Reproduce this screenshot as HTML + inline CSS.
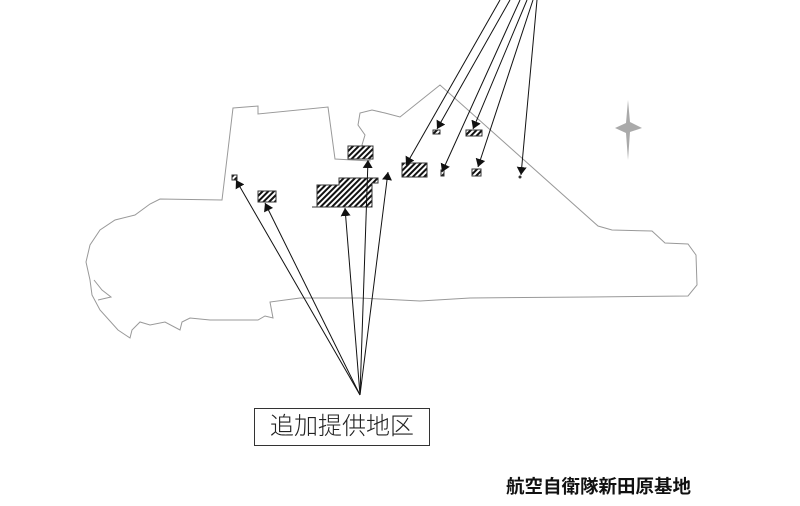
<!DOCTYPE html>
<html><head><meta charset="utf-8"><style>
body{margin:0;background:#fff;width:800px;height:506px;overflow:hidden;position:relative}
.lbl{position:absolute;left:254px;top:408px;width:176px;height:38px;border:1px solid #333;box-sizing:border-box;font-family:"Liberation Sans","Noto Sans CJK JP",sans-serif;font-size:24px;font-weight:300;line-height:36px;text-align:center;color:#222}
.ttl{position:absolute;left:506px;top:473px;font-family:"Liberation Sans","Noto Sans CJK JP",sans-serif;font-size:18.5px;font-weight:bold;color:#111;white-space:nowrap}
</style></head><body>
<svg width="800" height="506" style="position:absolute;left:0;top:0">
<defs>
<pattern id="h" width="4" height="4" patternUnits="userSpaceOnUse" patternTransform="rotate(45)"><rect width="4" height="4" fill="#fff"/><rect width="2" height="4" fill="#111"/></pattern>
<marker id="a" markerWidth="8" markerHeight="10" refX="8" refY="5" orient="auto" markerUnits="userSpaceOnUse"><path d="M0,0 L8,5 L0,10z" fill="#111"/></marker>
</defs>
<path d="M233,108 L258,106 L258,114 L328,107 L335,159 L370,161 L368,150 L362,145 L365,135 L358,125 L360,113 L372,110 L385,113 L400,117 L440,85 L598,226 L612,230 L652,231 L665,243 L688,244 L696,255 L697,285 L688,296 L590,297 L470,298 L420,301 L360,298 L300,298 L270,302 L273,318 L265,316 L258,320 L210,320 L190,318 L182,322 L180,330 L165,322 L150,325 L140,322 L132,330 L130,338 L118,330 L100,310 L92,295 L90,280 L86,262 L90,245 L100,230 L115,220 L135,215 L150,204 L160,199 L222,200 L228,150 Z" fill="none" stroke="#999" stroke-width="1"/>
<path d="M94,280 L102,290 L111,297 L98,300" fill="none" stroke="#999" stroke-width="1"/>
<g stroke="#333" stroke-width="1" fill="url(#h)">
<rect x="348" y="146" width="25" height="13"/>
<path d="M317,185 L339,185 L339,178 L378,178 L378,183 L372,183 L372,207 L317,207 Z"/>
<rect x="258" y="191" width="18" height="11"/>
<rect x="232" y="175" width="5" height="5"/>
<rect x="402" y="163" width="25" height="14"/>
<rect x="433" y="130" width="7" height="4"/>
<rect x="466" y="130" width="16" height="6"/>
<rect x="441" y="170" width="3" height="6"/>
<rect x="472" y="169" width="9" height="7"/>
</g>
<line x1="312" y1="207" x2="320" y2="207" stroke="#333"/>
<circle cx="520" cy="177" r="1.5" fill="#333"/>
<g stroke="#111" stroke-width="1" marker-end="url(#a)">
<line x1="360" y1="395" x2="236" y2="180"/>
<line x1="360" y1="395" x2="265" y2="203"/>
<line x1="360" y1="395" x2="345" y2="208"/>
<line x1="360" y1="395" x2="368" y2="160"/>
<line x1="360" y1="395" x2="388" y2="172"/>
<line x1="500" y1="0" x2="406" y2="165"/>
<line x1="510" y1="0" x2="437" y2="129"/>
<line x1="520" y1="0" x2="442" y2="172"/>
<line x1="527" y1="0" x2="473" y2="129"/>
<line x1="533" y1="0" x2="478" y2="167"/>
<line x1="537" y1="0" x2="521" y2="175"/>
</g>
<path d="M628,100 L630,122 L642,128 L630,132 L628,160 L626,133 L615,128 L626,123 Z" fill="#aaa"/>
</svg>
<div class="lbl">追加提供地区</div>
<div class="ttl">航空自衛隊新田原基地</div>
</body></html>
